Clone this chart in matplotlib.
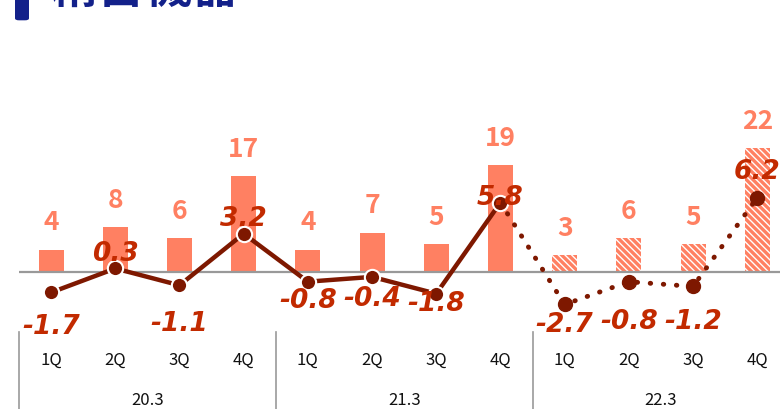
import matplotlib.pyplot as plt
from matplotlib.patches import FancyBboxPatch
from matplotlib.transforms import blended_transform_factory

# Datos trimestrales
trimestres = ['1Q', '2Q', '3Q', '4Q'] * 3
periodos = ['20.3', '21.3', '22.3']
barras = [4, 8, 6, 17, 4, 7, 5, 19, 3, 6, 5, 22]
linea = [-1.7, 0.3, -1.1, 3.2, -0.8, -0.4, -1.8, 5.8, -2.7, -0.8, -1.2, 6.2]
n_real = 8  # los primeros 8 son reales, el resto previsión

# desplazamiento (puntos) de las etiquetas de la línea
desp_linea = [-24, 11, -27, 11, -13, -15, -7, 4, -14, -28, -25, 19]

color_barra = '#FF8062'
color_linea = '#7E1800'
color_etq = '#C22A00'
azul = '#13218A'

plt.rcParams['hatch.color'] = color_barra
plt.rcParams['hatch.linewidth'] = 2.4

fig = plt.figure(figsize=(7.8, 4.1), dpi=100)
ax = fig.add_axes([19 / 780, 0.195, 1 - 19 / 780, 0.585])
ax2 = ax.twinx()

x = list(range(len(barras)))

# barras: reales rellenas, previsión con rayado
for i, v in enumerate(barras):
    if i < n_real:
        ax.bar(i, v, width=0.39, color=color_barra, linewidth=0)
    else:
        ax.bar(i, v, width=0.39, facecolor='white', edgecolor=color_barra,
               hatch='\\\\\\\\\\', linewidth=0)
    ax.annotate(str(v), (i, v), xytext=(0, 20), textcoords='offset points',
                ha='center', va='center', fontsize=19, fontweight='bold',
                color=color_barra, family='Noto Sans CJK JP')

ax.axhline(0, color='#999999', lw=1.6, zorder=3)

# línea real y previsión punteada
ax2.plot(x[:n_real], linea[:n_real], color=color_linea, lw=3.2,
         marker='o', markersize=11, markeredgecolor='white',
         markeredgewidth=1.5, zorder=5)
ax2.plot(x[n_real - 1:], linea[n_real - 1:], color=color_linea, lw=3.5,
         linestyle=(0, (0.1, 2.6)), dash_capstyle='round', zorder=4)
ax2.plot(x[n_real:], linea[n_real:], 'o', color=color_linea,
         markersize=10, zorder=5)

for i, v in enumerate(linea):
    ax2.annotate(f'{v:.1f}', (i, v), xytext=(0, desp_linea[i]),
                 textcoords='offset points', ha='center', va='center',
                 fontsize=19, fontweight='bold', style='italic',
                 color=color_etq, family='DejaVu Sans', zorder=6)

ax.set_xlim(-0.5, 11.355)
ax.set_ylim(-10.09, 32.4)
ax2.set_ylim(-4.75, 15.25)

for a in (ax, ax2):
    a.axis('off')

# ejes de categorías
tr = blended_transform_factory(ax.transData, fig.transFigure)
for i, t in enumerate(trimestres):
    ax.text(i, 0.122, t, transform=tr, ha='center', va='center',
            fontsize=12, color='#111111', family='Noto Sans CJK JP')
for k, p in enumerate(periodos):
    ax.text(4 * k + 1.5, 0.024, p, transform=tr, ha='center', va='center',
            fontsize=12, color='#111111', family='Noto Sans CJK JP')
for s in [-0.5, 3.5, 7.5]:
    ax.plot([s, s], [0, 0.188], transform=tr, color='#999999', lw=1.2,
            clip_on=False)

# título (cortado arriba)
fig.patches.append(FancyBboxPatch((15 / 780, 0.948), 14 / 780, 0.08,
                                  boxstyle='round,pad=0,rounding_size=0.005',
                                  transform=fig.transFigure, color=azul,
                                  linewidth=0))
fig.text(50 / 780, 0.968, '精密機器', fontsize=34, fontweight='bold',
         color=azul, family=['Noto Sans CJK JP', 'DejaVu Sans'],
         ha='left', va='bottom')

fig.savefig('out.png', dpi=100)
